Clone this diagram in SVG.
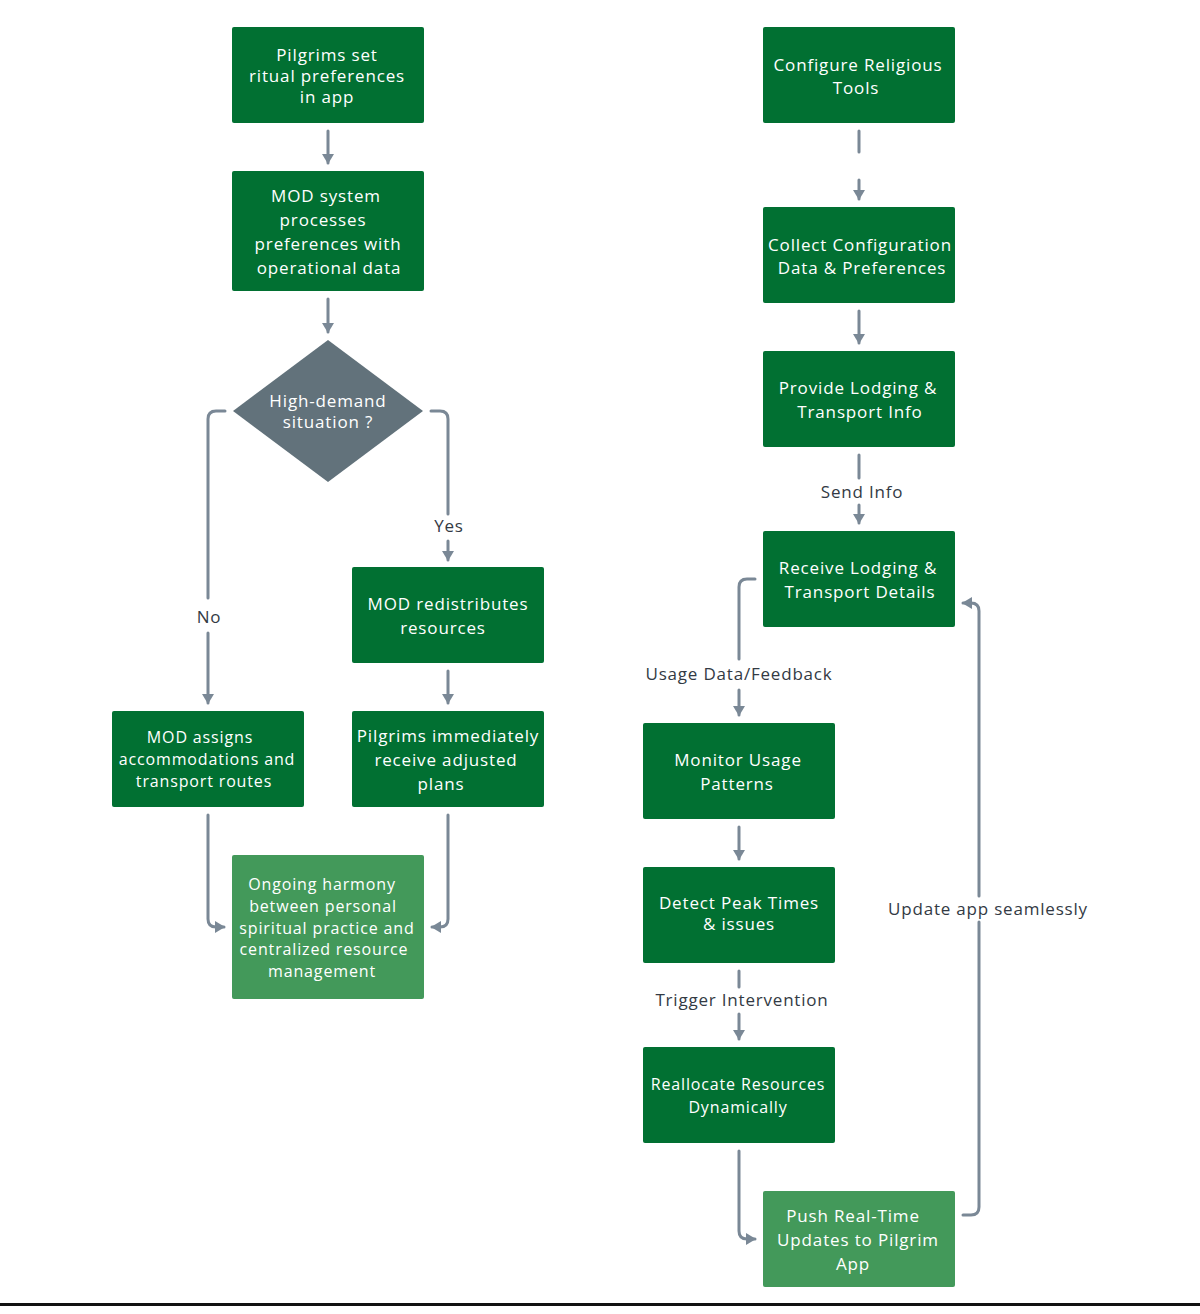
<svg xmlns="http://www.w3.org/2000/svg" width="1200" height="1314" viewBox="0 0 1200 1314">
<style>
.box{fill:#017032;}
.box2{fill:#43995A;}
.dia{fill:#62727B;}
.t{font-family:"Open Sans","Liberation Sans",sans-serif;font-size:17px;fill:#ffffff;text-anchor:middle;letter-spacing:0.85px;}
.t2{font-family:"Open Sans","Liberation Sans",sans-serif;font-size:16px;fill:#ffffff;text-anchor:middle;letter-spacing:0.85px;}
.lbl{font-family:"Open Sans","Liberation Sans",sans-serif;font-size:17px;fill:#333a44;text-anchor:middle;letter-spacing:0.8px;}
.c{fill:none;stroke:#7A8896;stroke-width:3;stroke-linecap:round;}
</style>
<defs>
<marker id="ah" viewBox="0 0 10 12" refX="9" refY="6" markerWidth="10" markerHeight="12" markerUnits="userSpaceOnUse" orient="auto">
<path d="M0,0 L10,6 L0,12 z" fill="#7A8896"/>
</marker>
</defs>
<rect x="0" y="0" width="1200" height="1314" fill="#ffffff"/>
<g id="connectors">
<path class="c" d="M328,131 V163" marker-end="url(#ah)"/>
<path class="c" d="M328,299 V332" marker-end="url(#ah)"/>
<path class="c" d="M225,411 H216 Q208,411 208,419 V598"/>
<path class="c" d="M208,633 V703" marker-end="url(#ah)"/>
<path class="c" d="M431,411 H440 Q448,411 448,419 V514"/>
<path class="c" d="M448,541 V560" marker-end="url(#ah)"/>
<path class="c" d="M448,671 V703" marker-end="url(#ah)"/>
<path class="c" d="M208,815 V919 Q208,927 216,927 H224" marker-end="url(#ah)"/>
<path class="c" d="M448,815 V919 Q448,927 440,927 H432" marker-end="url(#ah)"/>
<path class="c" d="M859,131 V152"/>
<path class="c" d="M859,180 V199" marker-end="url(#ah)"/>
<path class="c" d="M859,311 V343" marker-end="url(#ah)"/>
<path class="c" d="M859,455 V478"/>
<path class="c" d="M859,505 V523" marker-end="url(#ah)"/>
<path class="c" d="M755,579 H747 Q739,579 739,587 V659"/>
<path class="c" d="M739,690 V715" marker-end="url(#ah)"/>
<path class="c" d="M739,827 V859" marker-end="url(#ah)"/>
<path class="c" d="M739,971 V987"/>
<path class="c" d="M739,1014 V1039" marker-end="url(#ah)"/>
<path class="c" d="M739,1151 V1231 Q739,1239 747,1239 H755" marker-end="url(#ah)"/>
<path class="c" d="M963,1215 H971 Q979,1215 979,1207 V922"/>
<path class="c" d="M979,896 V611 Q979,603 971,603 H963" marker-end="url(#ah)"/>
<text class="lbl" x="209" y="623">No</text>
<text class="lbl" x="449" y="532">Yes</text>
<text class="lbl" x="862" y="498">Send Info</text>
<text class="lbl" x="739" y="680">Usage Data/Feedback</text>
<text class="lbl" x="742" y="1006">Trigger Intervention</text>
<text class="lbl" x="988" y="915">Update app seamlessly</text>
</g>
<g id="n1"><rect class="box" x="232" y="27" width="192" height="96" rx="2"/>
<text class="t" x="327" y="61">Pilgrims set</text><text class="t" x="327" y="82">ritual preferences</text><text class="t" x="327" y="103">in app</text></g>
<g id="n2"><rect class="box" x="232" y="171" width="192" height="120" rx="2"/>
<text class="t" x="326" y="202">MOD system</text><text class="t" x="323" y="226">processes</text><text class="t" x="328" y="250">preferences with</text><text class="t" x="329" y="274">operational data</text></g>
<g id="n3"><path class="dia" d="M328,340 L423,411 L328,482 L233,411 z"/>
<text class="t" x="328" y="407">High-demand</text><text class="t" x="328" y="428">situation ?</text></g>
<g id="n4"><rect class="box" x="352" y="567" width="192" height="96" rx="2"/>
<text class="t" x="448" y="610">MOD redistributes</text><text class="t" x="443" y="634">resources</text></g>
<g id="n5"><rect class="box" x="112" y="711" width="192" height="96" rx="2"/>
<text class="t2" x="200" y="743">MOD assigns</text><text class="t2" x="207" y="765">accommodations and</text><text class="t2" x="204" y="787">transport routes</text></g>
<g id="n6"><rect class="box" x="352" y="711" width="192" height="96" rx="2"/>
<text class="t" x="448" y="742">Pilgrims immediately</text><text class="t" x="446" y="766">receive adjusted</text><text class="t" x="441" y="790">plans</text></g>
<g id="n7"><rect class="box2" x="232" y="855" width="192" height="144" rx="2"/>
<text class="t2" x="322" y="890">Ongoing harmony</text><text class="t2" x="323" y="912">between personal</text><text class="t2" x="327" y="934">spiritual practice and</text><text class="t2" x="324" y="955">centralized resource</text><text class="t2" x="322" y="977">management</text></g>
<g id="r1"><rect class="box" x="763" y="27" width="192" height="96" rx="2"/>
<text class="t" x="858" y="71">Configure Religious</text><text class="t" x="856" y="94">Tools</text></g>
<g id="r2"><rect class="box" x="763" y="207" width="192" height="96" rx="2"/>
<text class="t" x="860" y="251">Collect Configuration</text><text class="t" x="862" y="274">Data &amp; Preferences</text></g>
<g id="r3"><rect class="box" x="763" y="351" width="192" height="96" rx="2"/>
<text class="t" x="858" y="394">Provide Lodging &amp;</text><text class="t" x="860" y="418">Transport Info</text></g>
<g id="r4"><rect class="box" x="763" y="531" width="192" height="96" rx="2"/>
<text class="t" x="858" y="574">Receive Lodging &amp;</text><text class="t" x="860" y="598">Transport Details</text></g>
<g id="r5"><rect class="box" x="643" y="723" width="192" height="96" rx="2"/>
<text class="t" x="738" y="766">Monitor Usage</text><text class="t" x="737" y="790">Patterns</text></g>
<g id="r6"><rect class="box" x="643" y="867" width="192" height="96" rx="2"/>
<text class="t" x="739" y="909">Detect Peak Times</text><text class="t" x="739" y="930">&amp; issues</text></g>
<g id="r7"><rect class="box" x="643" y="1047" width="192" height="96" rx="2"/>
<text class="t2" x="738" y="1090">Reallocate Resources</text><text class="t2" x="738" y="1113">Dynamically</text></g>
<g id="r8"><rect class="box2" x="763" y="1191" width="192" height="96" rx="2"/>
<text class="t" x="853" y="1222">Push Real-Time</text><text class="t" x="858" y="1246">Updates to Pilgrim</text><text class="t" x="853" y="1270">App</text></g>
<rect x="0" y="1303" width="1200" height="3" fill="#111111"/>
</svg>
